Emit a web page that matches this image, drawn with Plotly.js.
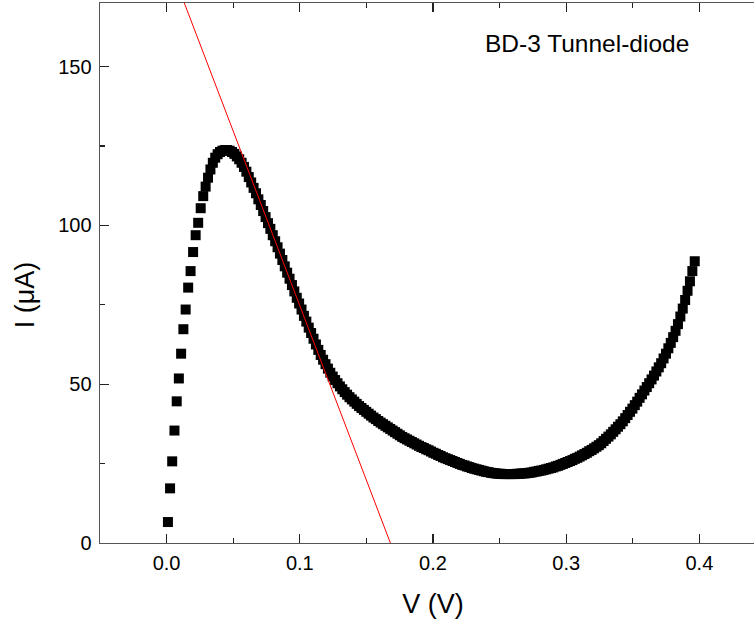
<!DOCTYPE html>
<html><head><meta charset="utf-8">
<script src="https://cdn.plot.ly/plotly-3.0.1.min.js"></script>
<style>html,body{margin:0;padding:0;overflow:hidden;background:#fff}#chart{width:780px;height:624px}</style>
</head><body><div id="chart"></div>
<script>
const voltage = [
0.0010,0.0026,0.0042,0.0059,0.0076,0.0092,0.0109,0.0126,0.0143,0.0162,
0.0180,0.0199,0.0218,0.0237,0.0256,0.0275,0.0293,0.0311,0.0329,0.0347,
0.0365,0.0383,0.0401,0.0419,0.0437,0.0455,0.0473,0.0491,0.0509,0.0527,
0.0545,0.0563,0.0581,0.0599,0.0617,0.0635,0.0653,0.0671,0.0689,0.0707,
0.0725,0.0743,0.0761,0.0779,0.0797,0.0815,0.0833,0.0851,0.0869,0.0887,
0.0905,0.0923,0.0941,0.0959,0.0977,0.0995,0.1013,0.1031,0.1049,0.1067,
0.1085,0.1103,0.1121,0.1139,0.1157,0.1175,0.1193,0.1211,0.1229,0.1247,
0.1265,0.1283,0.1301,0.1319,0.1337,0.1355,0.1373,0.1391,0.1409,0.1427,
0.1445,0.1463,0.1481,0.1499,0.1517,0.1535,0.1553,0.1571,0.1589,0.1607,
0.1625,0.1643,0.1661,0.1679,0.1697,0.1715,0.1733,0.1751,0.1769,0.1787,
0.1805,0.1823,0.1841,0.1859,0.1877,0.1895,0.1913,0.1931,0.1949,0.1967,
0.1985,0.2003,0.2021,0.2039,0.2057,0.2075,0.2093,0.2111,0.2129,0.2147,
0.2165,0.2183,0.2201,0.2219,0.2237,0.2255,0.2273,0.2291,0.2309,0.2327,
0.2345,0.2363,0.2381,0.2399,0.2417,0.2435,0.2453,0.2471,0.2489,0.2507,
0.2525,0.2543,0.2561,0.2579,0.2597,0.2615,0.2633,0.2651,0.2669,0.2687,
0.2705,0.2723,0.2741,0.2759,0.2777,0.2795,0.2813,0.2831,0.2849,0.2867,
0.2885,0.2903,0.2921,0.2939,0.2957,0.2975,0.2993,0.3011,0.3029,0.3047,
0.3065,0.3083,0.3101,0.3119,0.3137,0.3155,0.3173,0.3191,0.3209,0.3227,
0.3245,0.3263,0.3281,0.3299,0.3317,0.3335,0.3353,0.3371,0.3389,0.3407,
0.3425,0.3443,0.3461,0.3479,0.3497,0.3515,0.3533,0.3551,0.3569,0.3587,
0.3605,0.3623,0.3641,0.3659,0.3677,0.3695,0.3713,0.3731,0.3749,0.3767,
0.3785,0.3803,0.3821,0.3839,0.3857,0.3875,0.3893,0.3911,0.3929,0.3947,
0.3965];
const current = [
6.6,17.2,25.7,35.4,44.6,51.8,59.6,67.3,73.5,80.4,
85.6,91.6,96.9,100.8,105.4,109.2,112.2,115.0,117.6,119.7,
121.3,122.4,123.1,123.5,123.7,123.7,123.5,123.1,122.5,121.7,
120.8,119.7,118.4,116.9,115.2,113.5,111.8,110.1,108.2,106.4,
104.5,102.6,100.7,98.9,96.9,95.0,93.1,91.1,89.1,87.1,
85.1,83.2,81.2,79.2,77.2,75.4,73.5,71.5,69.7,67.8,
66.1,64.3,62.5,60.8,59.2,57.7,56.3,54.9,53.6,52.4,
51.3,50.3,49.3,48.4,47.5,46.7,45.9,45.2,44.5,43.8,
43.1,42.5,41.9,41.3,40.7,40.1,39.5,39.0,38.4,37.9,
37.4,36.9,36.4,35.9,35.4,34.9,34.4,33.9,33.4,33.0,
32.6,32.2,31.8,31.4,31.0,30.6,30.2,29.9,29.5,29.2,
28.8,28.4,28.1,27.7,27.4,27.0,26.7,26.4,26.1,25.8,
25.5,25.2,24.9,24.6,24.4,24.1,23.9,23.6,23.4,23.2,
23.0,22.8,22.6,22.4,22.3,22.1,22.0,21.9,21.8,21.8,
21.7,21.7,21.7,21.7,21.7,21.7,21.8,21.8,21.9,21.9,
22.0,22.1,22.2,22.4,22.5,22.7,22.8,23.0,23.2,23.4,
23.6,23.8,24.1,24.3,24.6,24.9,25.2,25.5,25.8,26.1,
26.5,26.8,27.2,27.6,28.0,28.4,28.9,29.3,29.8,30.3,
30.8,31.4,32.1,32.8,33.5,34.2,35.0,35.8,36.6,37.4,
38.3,39.3,40.3,41.3,42.3,43.4,44.5,45.7,46.8,48.0,
49.1,50.3,51.5,52.7,54.0,55.3,56.6,58.1,59.6,61.3,
63.0,64.8,66.8,68.9,71.3,73.8,76.5,79.4,82.4,85.6,
88.7];
const fitVoltage = [0.0133, 0.168];
const fitCurrent = [170, 0];
const xTickVals = [0, 0.1, 0.2, 0.3, 0.4];
const xTickText = ['0.0', '0.1', '0.2', '0.3', '0.4'];
const yTickVals = [0, 50, 100, 150];
const yTickText = ['0', '50', '100', '150'];
const xLabel = 'V (V)';
const yLabel = 'I (\u03BCA)';
const noteText = 'BD-3 Tunnel-diode';

const FONT = 'Arial, "Liberation Sans", Helvetica, sans-serif';
const traces = [
  {x: voltage, y: current, type: 'scatter', mode: 'markers',
   marker: {symbol: 'square', size: 10, color: '#000000', line: {width: 0}},
   hoverinfo: 'x+y', showlegend: false},
  {x: fitVoltage, y: fitCurrent, type: 'scatter', mode: 'lines',
   line: {color: '#ff0000', width: 1}, showlegend: false}
];
const axisCommon = {
  showgrid: false, zeroline: false, showline: true, linecolor: '#555555', linewidth: 1.4,
  mirror: 'ticks', ticks: 'inside', ticklen: 9, tickwidth: 1.2, tickcolor: '#222222',
  tickfont: {family: FONT, size: 20, color: '#000000'}
};
const layout = {
  width: 780, height: 624,
  margin: {l: 100, r: 14, t: 3, b: 81},
  paper_bgcolor: '#ffffff', plot_bgcolor: '#ffffff',
  font: {family: FONT, color: '#000000'},
  xaxis: Object.assign({}, axisCommon, {
    range: [-0.05, 0.45], tickmode: 'array', tickvals: xTickVals, ticktext: xTickText,
    minor: {dtick: 0.05, ticks: 'inside', ticklen: 5, tickcolor: '#222222', tickwidth: 1.2, showgrid: false},
    ticklabelstandoff: 2,
    title: {text: xLabel, font: {family: FONT, size: 27, color: '#000000'}, standoff: 20}
  }),
  yaxis: Object.assign({}, axisCommon, {
    range: [0, 170], tickmode: 'array', tickvals: yTickVals, ticktext: yTickText,
    minor: {dtick: 25, ticks: 'inside', ticklen: 5, tickcolor: '#222222', tickwidth: 1.2, showgrid: false},
    ticklabelstandoff: 3,
    title: {text: ''}
  }),
  annotations: [
    {text: noteText, xref: 'paper', yref: 'paper', x: 0.575, y: 0.9245, xanchor: 'left', yanchor: 'middle',
     showarrow: false, font: {family: FONT, size: 24.5, color: '#000000'}},
    {text: yLabel, xref: 'paper', yref: 'paper', x: -0.113, y: 0.46, xanchor: 'center', yanchor: 'middle',
     textangle: -90, showarrow: false, font: {family: FONT, size: 27, color: '#000000'}}
  ]
};
Plotly.newPlot('chart', traces, layout, {staticPlot: true, displayModeBar: false});
</script>
</body></html>
